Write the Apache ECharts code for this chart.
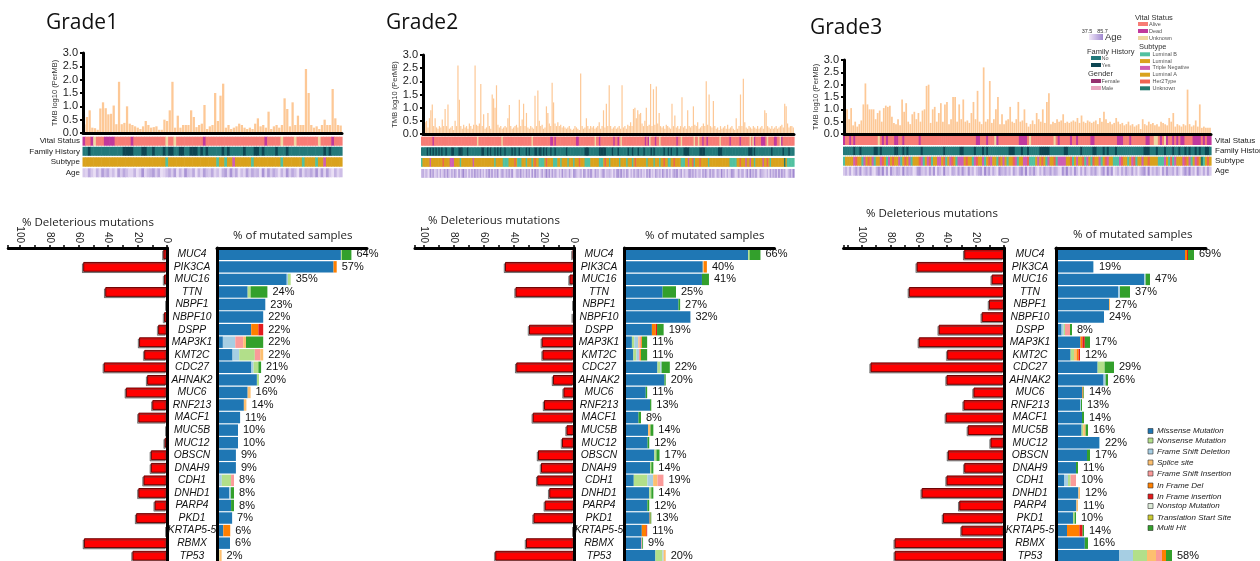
<!DOCTYPE html>
<html><head><meta charset="utf-8">
<script src="https://cdn.jsdelivr.net/npm/echarts@6/dist/echarts.min.js"></script>
<style>html,body{margin:0;padding:0;background:#fff}#c{width:1260px;height:561px}</style>
</head><body><div id="c"></div>
<script>
// ---------------- DATA ----------------
const genes = ['MUC4','PIK3CA','MUC16','TTN','NBPF1','NBPF10','DSPP','MAP3K1','KMT2C','CDC27','AHNAK2','MUC6','RNF213','MACF1','MUC5B','MUC12','OBSCN','DNAH9','CDH1','DNHD1','PARP4','PKD1','KRTAP5-5','RBMX','TP53'];
const mutTypes = ['Missense Mutation','Nonsense Mutation','Frame Shift Deletion','Splice site','Frame Shift Insertion','In Frame Del','In Frame insertion','Nonstop Mutation','Translation Start Site','Multi Hit'];
const tmbTicks = [0, 0.5, 1, 1.5, 2, 2.5, 3];
const delTicks = [0, 20, 40, 60, 80, 100];

// TMB log10 (per MB), one value per sample
const tmb1 = [0.32,0.6,0.85,0.2,0.18,0.12,0.92,1.15,0.93,0.7,
 0.72,1.03,0.33,1.92,0.33,0.38,1.0,0.35,0.3,0.25,
 0.2,0.15,0.25,0.45,0.3,0.2,0.22,0.25,0.12,0.12,
 0.5,0.45,0.85,1.92,0.2,0.65,0.2,0.3,0.3,0.3,
 0.85,0.6,0.22,0.3,0.35,1.05,0.15,0.25,0.3,1.5,
 0.45,1.4,1.85,0.2,0.3,0.15,0.2,0.25,0.35,0.3,
 0.2,0.15,0.2,0.15,0.35,0.55,0.25,0.3,0.2,0.8,
 0.15,0.25,0.3,0.2,0.3,1.3,0.9,0.25,1.15,0.3,
 0.65,0.3,0.3,2.4,1.5,0.3,0.2,0.25,0.15,0.3,
 0.5,0.3,0.3,1.65,0.55,0.3,0.28];
const tmb2 = [0.85,0.45,0.5,0.25,0.6,0.9,1.12,0.3,0.6,0.25,0.2,0.3,0.25,0.55,0.3,0.95,0.3,1.12,0.2,0.25,
 0.3,0.15,0.5,0.3,2.6,1.3,0.3,0.2,0.35,0.25,0.3,0.2,0.4,0.3,0.2,0.35,2.6,0.35,0.3,0.4,
 1.9,0.3,0.75,0.2,0.25,0.8,0.3,0.2,1.5,1.35,1.0,1.85,0.35,0.25,0.3,0.2,0.25,0.3,0.25,0.6,
 1.1,0.3,0.2,0.25,0.3,0.35,0.25,1.3,0.3,0.55,1.15,0.3,0.8,0.25,0.2,0.3,0.25,0.2,1.45,0.3,
 1.65,0.5,0.3,0.35,0.2,0.25,1.05,0.8,0.4,0.3,1.95,1.2,0.4,0.3,0.45,0.3,0.35,0.25,0.3,0.25,
 0.2,0.25,0.3,0.2,0.15,0.2,0.3,0.25,0.2,0.15,2.3,0.3,0.2,0.25,0.6,0.3,0.2,0.3,0.25,0.3,
 0.2,0.25,0.3,0.45,0.2,0.3,0.9,0.25,1.15,0.3,1.85,0.3,0.2,0.25,0.3,0.2,0.25,0.3,0.2,1.85,
 0.25,0.3,0.2,0.35,0.3,0.45,0.3,0.95,1.0,0.6,0.9,0.75,0.8,0.4,0.3,0.5,1.0,0.3,0.35,1.9,
 0.3,1.7,0.35,1.8,0.4,0.8,0.3,0.25,0.3,0.2,0.35,0.3,0.25,0.2,1.15,0.3,0.7,0.25,0.3,0.2,
 0.3,1.4,0.25,0.3,0.2,0.9,0.3,0.25,0.3,1.05,0.35,0.3,0.45,0.2,0.25,0.3,0.4,0.3,2.0,0.35,
 1.5,0.3,0.25,1.25,0.3,0.2,0.25,0.15,0.3,0.2,0.25,0.3,0.2,0.35,0.2,0.25,0.3,0.2,0.15,0.6,
 0.2,0.3,1.5,0.3,2.1,0.45,0.25,0.2,0.3,0.25,0.2,0.3,0.25,0.2,0.3,0.2,0.25,0.3,0.2,0.9,
 0.8,0.3,0.25,0.2,0.3,0.2,0.25,0.3,0.2,0.25,0.3,0.35,0.25,1.15,1.05,0.4,0.25,0.3,0.3,0.25];
const tmb3 = [0.95,1.0,0.6,1.05,0.35,0.5,0.3,0.4,0.55,1.2,2.05,1.2,1.0,1.0,1.0,0.6,0.85,0.95,0.5,1.05,
 1.15,1.1,1.15,0.7,0.45,0.4,0.6,0.35,1.4,0.9,1.25,0.5,0.4,0.8,0.9,0.6,0.85,0.5,0.95,1.0,
 1.95,2.0,0.45,1.0,1.1,0.5,0.85,1.25,0.5,1.2,1.3,0.4,0.6,1.5,1.5,0.5,1.2,0.6,1.4,0.5,
 0.55,0.45,0.85,1.3,0.6,1.75,0.5,0.4,2.7,0.5,0.6,2.15,0.45,0.6,1.0,1.5,0.4,0.8,0.4,0.55,
 0.6,1.1,0.5,0.45,0.6,1.3,0.5,0.55,1.0,0.45,0.3,0.4,0.55,0.4,0.85,0.6,0.5,1.0,0.45,1.3,
 1.65,0.4,0.5,0.45,0.6,0.5,0.55,0.8,0.45,0.5,0.45,0.5,0.55,0.5,0.65,0.45,0.75,0.5,0.45,0.55,
 0.5,0.45,0.5,0.55,0.4,0.65,0.5,0.9,0.6,0.45,0.5,0.4,0.45,0.65,0.5,0.4,0.45,0.35,0.4,0.5,
 0.35,0.4,0.3,0.35,0.4,0.2,0.6,0.4,0.35,0.5,0.4,0.45,0.35,0.4,0.3,0.5,0.45,0.4,0.35,0.65,
 0.5,0.85,0.3,0.4,0.35,0.3,0.4,0.35,1.8,0.4,0.3,0.35,0.55,0.3,1.2,0.25,0.3,0.25,0.25,0.25];

// Clinical tracks (one code per sample)
// vital: A alive, D dead, U unknown | family: T no, Y yes | subtype: B LumB, L Luminal, T TNBC, A LumA, H Her2, U unknown | age: 0 (37.5) .. 9 (85.7)
const vital1 = 'DAADUAAADDDD'+'AAAAAAD'+'AAAAAAAAAAAA'+'UAAU'+'AAAAAAAAAA'+'D'+'AAAAAAAAAAAAAAAAAAAAAA'+'DAAAAAU'+'AAAAU'+'AAAAAAAAU'+'AAAADAAA';
const family1 = 'TTYTTTTTTT'+'TTTTTYYYYT'+'TTYYTTYTTT'+'YTYYTTYYTT'+'YYYTYTYTTT'+'TTYTYTTTTT'+'YTTTYYTYTT'+'TTYTTTYTTT'+'TTTTTTTTTT'+'YTYTTTT';
const subtype1 = 'LLLLLLLLLL'+'LLLLLLLLLL'+'LLLLLLLLLL'+'LBLLLLLLLL'+'LLLLLLLLLL'+'BLLBLLTLLL'+'LLLBLLLLLL'+'LLLLBLLLLL'+'LLBLLLLBLL'+'TLLLLLL';
const age1 = '3263152746'+'2417364225'+'1382457361'+'2463715284'+'3615274362'+'4157283614'+'2736451827'+'3641528364'+'1725463827'+'2731524';

const vital2 = 'AAAAAAAADA'+'AAAAAAAAAA'+'AAAAAAAAAA'+'AAAAAAAAAU'+'AAAAAAAAAA'+'AAAAAAUAAA'+'AAAAAAAAAA'+'AAAAAAAUAA'+'AAAAAAAAAA'+'DDADAAAAAA'+'AAAAAAAADD'+'AAAAAAAAAA'+'AUAADAAAAA'+'AAAADAADAU'+'AAAAAAAAAA'+'AAAAAADADU'+'AAADAAUAAA'+'AAAAAAAADA'+'AUAAAAAAAA'+'UAAUAADAAD'+'AAAAAAAAUA'+'AAAAADAAAA'+'AADAAAAAAU'+'AUDAAAADDD'+'AUAAAADDAA'+'UDAAAAAAAA';
const family2 = 'TTTTYTYTYT'+'YTYTYTTYTT'+'TYYTTTYYYT'+'TTYTTTTTTT'+'TTYYTTYTYT'+'TYTYTYTTYT'+'TTTYTYTTYT'+'TTTYTYTTTY'+'YTYYTYTYTT'+'YTTYTTTTTT'+'TYTTTTTTTT'+'TTTTYYYTTT'+'TTTTYYYYYT'+'TTTYTTTYTT'+'TTTTYTTYTT'+'TYTTTYTTTT'+'YTYTTTTTTY'+'TTYTYTTTYT'+'TTTYYYYTTT'+'TTTTYYYYTT'+'TTTTTTTYYY'+'TTTTTTTTTT'+'TTTTTTTTYY'+'YTYTTTTTTT'+'TTTTYTTTTT'+'TTYTTTYTTT';
const subtype2 = 'BLLLLLTLLL'+'LLLLLHLLLL'+'TTTLLLLBLL'+'LLLLLLTLLL'+'LLLLLLLLLL'+'LBLLLLLBBB'+'BLLLLHLBBB'+'LLLBLLLBLH'+'LLBBBBLHLL'+'LLBBBLLBLL'+'LLBLLLBLLL'+'HLLLBBBBLL'+'LLLLBBBLHL'+'LBLLLLLLBL'+'LLLBLLLBLH'+'LLLLLLLBLL'+'LLBLLLBLLH'+'LLBBLLHLLL'+'LBBBLLTLLH'+'BLLLHLLLLL'+'BLLLLLLLLL'+'LLLLLBBBBB'+'LLHLLLTLLT'+'LLBLLLLLTL'+'LHLBLLLLLL'+'LLLULBBBBB';
const age2 = '4625318472'+'3516247384'+'2637418259'+'4516273846'+'3725164938'+'2648137526'+'4739215648'+'3527461829'+'4613725948'+'2736415283'+'5427318642'+'3618527493'+'2745136824'+'4531627849'+'3628415273'+'5736241849'+'2417536284'+'3826147592'+'4715326847'+'3624517483'+'2837416529'+'4516238741'+'3725614829'+'4638217543'+'2517364829'+'3846125739';

const vital3 = 'DAADADAAAA'+'AAAAAAAUAD'+'ADAAADDAAD'+'AAAAAAADAA'+'AAAAAAAAAA'+'AAAAAAAAAA'+'AAAAADDAAA'+'DAAAUDAAAA'+'AAAAAADDDD'+'AUAAAAAAAA'+'AAAUADAAAA'+'ADAADAAAAA'+'ADDAAAAAAA'+'AAAADDDAAA'+'DAAAAAAADD'+'AAUUADAUDA'+'ADADADDAAA'+'ADDDDADADD';
const family3 = 'TTTTTYTTYT'+'TTTTTYYTYT'+'TTTTTYYTTY'+'TYTTTTTTYT'+'TTTTTTTTTY'+'TTTTTTTYYT'+'TTTTYTTTYT'+'YTTTTTTTTT'+'TYYYTTTYTT'+'YTTTTTYYYY'+'YTTTTTTTYY'+'TTTTTTYTTT'+'TTYYTTTYTY'+'TTTYTTTTTT'+'TTTTTTTYYY'+'TTTYTTTYTT'+'TYTTYTTYTY'+'TTYTYTTYYT';
const subtype3 = 'BLLLLTHLLB'+'TLHLTBLLTH'+'LBTLHLLTBL'+'HLTBLLLHTB'+'LTHBLLTTLH'+'BLTHLBTTTL'+'HLLBTHLLTB'+'LHTLLBHLTL'+'BLLHTBLLTT'+'HBBBLTLHLB'+'TLLHBTTTTL'+'LHBLTLLHBT'+'LBHLLTBLHT'+'LLBBBTHLLB'+'LTHBLLTLLH'+'LLLLBBBTLB'+'HBTLLLTHLT'+'BLTHLUBLHL';
const age3 = '3526147382'+'4637215849'+'2718436529'+'3645127843'+'5273816429'+'3416527384'+'2835146729'+'4726318546'+'3517426839'+'2648315274'+'4736521849'+'3528416273'+'2647315829'+'4813526374'+'3725146829'+'2536417384'+'4627315849'+'3518426273';

// % deleterious mutations per gene
const del1 = [2.5,57,2,42,0,2,6,19,15.5,43,13.5,28,10,19.5,0,1.6,11,11,16,19.5,8.4,21,0,56.5,23.5];
const del2 = [1,46,3,39,0,0.7,30,21.5,21,38.5,14,7,20,27.5,5,8,24,22,24.5,16.5,19.5,27,0,32,52.5];
const del3 = [28,61.5,8.7,67,10.6,15.7,46,60,40,94,40.5,21.5,28.5,41,25.5,9.5,39.5,28,40.5,58,31.5,43,30,77,77];

// % of mutated samples by type; columns follow mutTypes
const mut1 = [
 [59,0.5,0,0,0,0,0,0,0,4.5],[55.5,0,0,0,0,1.5,0,0,0,0],[33.2,1.3,0.6,0,0,0,0,0,0,0],[14.6,1.4,0,0,0,0,0,0,0,8],
 [23,0,0,0,0,0,0,0,0,0],[22,0,0,0,0,0,0,0,0,0],[16.3,0,0,0,0,3.4,2.3,0,0,0],[2.8,0,5.9,1.3,3.8,0,0,0,0,8.2],
 [7.4,7.4,3.2,1.4,2.6,0,0,0,0,0],[16.4,2.3,1,0,0,0,0,0,0,1.3],[19,1,0,0,0,0,0,0,0,0],[14.6,0,0,1.4,0,0,0,0,0,0],
 [12.8,0,0,1.2,0,0,0,0,0,0],[11,0,0,0,0,0,0,0,0,0],[10,0,0,0,0,0,0,0,0,0],[10,0,0,0,0,0,0,0,0,0],
 [9,0,0,0,0,0,0,0,0,0],[9,0,0,0,0,0,0,0,0,0],[0.6,4.4,1.7,0,1.4,0,0,0,0,0],[5.8,0,0.8,0,0,0,0,0,0,1.5],
 [6.7,0,0,0,0,0,0,0,0,1.4],[7.2,0,0,0,0,0,0,0,0,0],[3,0,0,0,0,3.3,0,0,0,0],[6.2,0,0,0,0,0,0,0,0,0],
 [0,1.2,0,1.0,0,0,0,0,0,0]];
const mut2 = [
 [60,0.7,0,0,0,0,0,0,0,5.3],[38,0,0,0.5,0,1.5,0,0,0,0],[37.6,0,0,0,0,0,0,0,0,3.4],[18.5,0,0,0,0,0,0,0,0,6.5],
 [26.2,0,0,0,0,0,0,0,0,0.8],[32,0,0,0,0,0,0,0,0,0],[13.3,0,0,0,0,1.9,0.6,0,0,3.2],[3.6,1.2,1.9,0.5,0.9,0.4,0,0,0,2.5],
 [4.3,1.5,1.2,0,0.6,0.4,0,0,0,3],[16,1.4,0.6,0,0,0,0,0,0,4],[19.4,0,0,0,0,0,0,0,0,0.6],[10.3,0,0,0,0,0,0,0,0,0.7],
 [12.4,0,0,0,0,0,0,0,0,0.6],[6.8,0,0,0,0,0,0,0,0,1.2],[11.4,0,0,1.2,0,0,0,0,0,1.4],[11.2,0,0,0,0,0,0,0,0,0.8],
 [14.5,1,0,0,0,0,0,0,0,1.5],[12.4,0.6,0,0,0,0,0,0,0,1],[4.5,6.6,2.8,2.1,2.9,0,0,0,0,0],[12,1,0,0,0,0,0,0,0,1],
 [11.1,0,0,0,0,0,0,0,0,0.9],[12.2,0,0,0,0,0.4,0,0,0,0.4],[8.4,0,0,0,0,2.2,0.4,0,0,0],[8.2,0,0,0,0.4,0,0,0,0,0.4],
 [15,3.4,0.6,1,0,0,0,0,0,0]];
const mut3 = [
 [64.5,0,0,0,0,1,0.5,0,0,3],[18.5,0,0.5,0,0,0,0,0,0,0],[44,0,0.8,0,0,0,0,0,0,2.2],[31,0,1,0,0,0,0,0,0,5],
 [26.5,0,0,0.5,0,0,0,0,0,0],[24,0,0,0,0,0,0,0,0,0],[2.8,0.6,1.1,0,2.5,0,0,0,0,1],[12.2,0,0,0,0,1,1.2,0,0,2.6],
 [7.3,1.7,0,1.3,0,1,0.7,0,0,0],[20.8,3.5,0,0,0,0,0,0,0,4.7],[23.8,0,1,0,0,0,0,0,0,1.2],[13.2,0,0,0,0,0.5,0,0,0,0.3],
 [12,0,0.5,0,0,0,0,0,0,0.5],[13,0,0,0,0,0,0,0,0,1],[12.8,0.8,0,1.2,0,0,0,0,0,1.2],[21.5,0,0.5,0,0,0,0,0,0,0],
 [15.5,0,0,0,0,0,0,0,0,1.5],[10,0,0,0,0,0,0,0,0,1],[4,1.3,2,0,2.7,0,0,0,0,0],[11.2,0,0,0.8,0,0,0,0,0,0],
 [10.2,0,0,0.8,0,0,0,0,0,0],[8.5,0.8,0,0,0,0,0,0,0,0.7],[5.5,0,0,0,0,6.2,1.6,0,0,0.7],[14.4,0,0,0,0,0,0,0,0,1.6],
 [31.5,7,7,4.5,3,2,0,0,0,3]];
const pct1 = [64,57,35,24,23,22,22,22,22,21,20,16,14,11,10,10,9,9,8,8,8,7,6,6,2];
const pct2 = [66,40,41,25,27,32,19,11,11,22,20,11,13,8,14,12,17,14,19,14,12,13,11,9,20];
const pct3 = [69,19,47,37,27,24,8,17,12,29,26,14,13,14,16,22,17,11,10,12,11,10,14,16,58];

const vitalLegend = [['A','Alive'],['D','Dead'],['U','Unknown']];
const subtypeLegend = [['B','Luminal B'],['L','Luminal'],['T','Triple Negative'],['A','Luminal A'],['H','Her2Type'],['U','Unknown']];
const familyLegend = [['T','No'],['Y','Yes']];
const genderLegend = [['F','Female'],['M','Male']];
const ageRange = [37.5, 85.7];

// ---------------- STYLE / LAYOUT ----------------
const FONT = 'Liberation Sans';
const TFONT = 'Open Sans';
const COL = {
  tmb: '#fdc896',
  vital: {A:'#f77c76', D:'#c1399d', U:'#efd8a2'},
  family: {T:'#23797a', Y:'#0d4552'},
  subtype: {L:'#d9a21d', A:'#d9a21d', B:'#52c1a1', T:'#cf5fb3', H:'#ee6452', U:'#23796e'},
  gender: {F:'#96306f', M:'#eaa6c0'},
  ageLo: [242,233,249], ageHi: [160,136,208],
  mut: ['#1f77b4','#b2df8a','#a6cee3','#fdbf6f','#fb9a99','#ff7f00','#e31a1c','#dcebd8','#c9c930','#33a02c']
};
function ageColor(c){
  const t = (+c)/9;
  const m = COL.ageLo.map((v,i)=>Math.round(v + (COL.ageHi[i]-v)*t));
  return 'rgb('+m.join(',')+')';
}
const LAYOUT = [
 {tmb:{left:83,top:53,width:259,height:80,nameGap:22}, trk:{left:82.5,width:259.5,rows:[[136.7,9],[146.8,9],[157.3,9.4],[168.3,9]]},
  del:{x0:167,s:1.47,max:108,labelMargin:25}, mut:{left:217,s:2.1,width:150}, order:[0,2,1,4,3,5,6,7,8,9]},
 {tmb:{left:423,top:55,width:371,height:79,nameGap:24}, trk:{left:421,width:373,rows:[[136.7,9],[147.3,8.5],[158,8.8],[169,8.8]]},
  del:{x0:574,s:1.5,max:106,labelMargin:25}, mut:{left:624.5,s:2.06,width:150}, order:[0,1,2,3,4,5,6,7,8,9]},
 {tmb:{left:844,top:60,width:367,height:74,nameGap:23}, trk:{left:843,width:368,rows:[[136,9],[146.7,8.5],[156.7,9],[166.7,9]]},
  del:{x0:1004,s:1.42,max:113,labelMargin:26}, mut:{left:1056,s:2.0,width:150}, order:[0,2,1,3,4,5,6,7,8,9]}
];
const ROWTOP = 248, ROWH = 314;

const grids=[], xAxes=[], yAxes=[], series=[], graphics=[];
function addGrid(g){ grids.push(Object.assign({show:false, containLabel:false, outerBoundsMode:'none'}, g)); return grids.length-1; }

function addTMB(data, L){
  const gi = addGrid({left:L.left, top:L.top, width:L.width, height:L.height});
  xAxes.push({gridIndex:gi, type:'category', data:data.map((v,i)=>i), boundaryGap:true,
    axisLine:{show:true,onZero:false,lineStyle:{color:'#000',width:3}}, axisTick:{show:false}, axisLabel:{show:false}, splitLine:{show:false}, z:5});
  yAxes.push({gridIndex:gi, type:'value', min:tmbTicks[0], max:tmbTicks[tmbTicks.length-1], interval:tmbTicks[1]-tmbTicks[0],
    name:'TMB log10 (PerMB)', nameLocation:'middle', nameGap:L.nameGap, nameTextStyle:{fontSize:7.5,color:'#333',fontFamily:FONT},
    axisLine:{show:true,lineStyle:{color:'#000',width:3}}, axisTick:{show:true,length:3,lineStyle:{color:'#000',width:2}},
    axisLabel:{fontSize:11,color:'#222',margin:5,fontFamily:FONT,formatter:v=>v.toFixed(1)}, splitLine:{show:false}, z:5});
  series.push({type:'bar', xAxisIndex:gi, yAxisIndex:gi, data, barCategoryGap:'15%', itemStyle:{color:COL.tmb}, silent:true});
}
function addTrack(codes, colorOf, left, width, top, height){
  const gi = addGrid({left, top, width, height});
  const arr = codes.split('');
  xAxes.push({gridIndex:gi, type:'category', data:arr.map((c,i)=>i), show:false});
  yAxes.push({gridIndex:gi, type:'value', min:0, max:1, show:false});
  series.push({type:'custom', xAxisIndex:gi, yAxisIndex:gi, silent:true, data:arr.map((c,i)=>[i,1]),
    renderItem:(params, api)=>{
      const i = api.value(0);
      const p1 = api.coord([i,1]), p0 = api.coord([i,0]);
      const w = api.size([1,0])[0];
      return {type:'rect', shape:{x:p1[0]-w/2, y:p1[1], width:w+0.6, height:p0[1]-p1[1]}, style:{fill:colorOf(arr[params.dataIndex])}};
    }});
}
function addDel(data, D){
  const gi = addGrid({left:D.x0-D.max*D.s, top:ROWTOP, width:D.max*D.s, height:ROWH});
  xAxes.push({gridIndex:gi, type:'value', position:'top', inverse:true, min:delTicks[0], max:D.max, interval:delTicks[1]-delTicks[0],
    axisLine:{show:true,onZero:false,lineStyle:{color:'#000',width:3}},
    axisTick:{show:true,length:3,lineStyle:{color:'#000',width:1.5}},
    minorTick:{show:true,splitNumber:2,length:3,lineStyle:{color:'#000',width:1.5}},
    axisLabel:{rotate:90,fontSize:10,color:'#222',margin:5,fontFamily:FONT,showMaxLabel:false}, splitLine:{show:false}, minorSplitLine:{show:false}, z:5});
  yAxes.push({gridIndex:gi, type:'category', data:genes, inverse:true, position:'right',
    axisLine:{show:true,onZero:false,lineStyle:{color:'#000',width:3}}, axisTick:{show:false},
    axisLabel:{interval:0,fontStyle:'italic',fontSize:10.3,color:'#111',align:'center',margin:D.labelMargin,fontFamily:FONT}, z:5});
  series.push({type:'bar', xAxisIndex:gi, yAxisIndex:gi, data, barCategoryGap:'22%', silent:true,
    itemStyle:{color:'#ff0000', borderColor:'#6e0000', borderWidth:1, shadowColor:'rgba(70,70,70,0.5)', shadowBlur:0.5, shadowOffsetX:-1.3, shadowOffsetY:1.3}});
}
function addMut(rows, pct, M, order, k){
  const gi = addGrid({left:M.left, top:ROWTOP, width:M.width, height:ROWH});
  xAxes.push({gridIndex:gi, type:'value', position:'top', min:0, max:M.width/M.s,
    axisLine:{show:true,onZero:false,lineStyle:{color:'#000',width:3}}, axisTick:{show:false}, axisLabel:{show:false}, splitLine:{show:false}, z:5});
  yAxes.push({gridIndex:gi, type:'category', data:genes, inverse:true,
    axisLine:{show:true,onZero:false,lineStyle:{color:'#000',width:3}}, axisTick:{show:false}, axisLabel:{show:false}, z:5});
  order.forEach(t => series.push({type:'bar', name:mutTypes[t], xAxisIndex:gi, yAxisIndex:gi, stack:'m'+k, silent:true,
    data:rows.map(r=>r[t]), barCategoryGap:'9%', itemStyle:{color:COL.mut[t]}}));
  series.push({type:'bar', xAxisIndex:gi, yAxisIndex:gi, stack:'m'+k, silent:true, data:rows.map(()=>0), barCategoryGap:'9%',
    itemStyle:{color:'rgba(0,0,0,0)'},
    label:{show:true, position:'right', distance:5, fontSize:11, color:'#111', fontFamily:FONT, formatter:p=>pct[p.dataIndex]+'%'}});
}

const PANELS = [
  {tmb:tmb1, tr:[vital1,family1,subtype1,age1], del:del1, mut:mut1, pct:pct1},
  {tmb:tmb2, tr:[vital2,family2,subtype2,age2], del:del2, mut:mut2, pct:pct2},
  {tmb:tmb3, tr:[vital3,family3,subtype3,age3], del:del3, mut:mut3, pct:pct3}
];
const trackColor = [c=>COL.vital[c], c=>COL.family[c], c=>COL.subtype[c], c=>ageColor(c)];

PANELS.forEach((P,k)=>{
  const L = LAYOUT[k];
  addTMB(P.tmb, L.tmb);
  P.tr.forEach((codes,j)=> addTrack(codes, trackColor[j], L.trk.left, L.trk.width, L.trk.rows[j][0], L.trk.rows[j][1]));
  addDel(P.del, L.del);
  addMut(P.mut, P.pct, L.mut, L.order, k);
});

// ---------------- TEXTS / LEGENDS ----------------
function txt(text, x, y, o){ graphics.push({type:'text', x, y, silent:true, style:Object.assign({text, fontSize:10, fontFamily:FONT, fill:'#222', align:'left', verticalAlign:'middle'}, o||{})}); }
function box(x, y, w, h, fill, stroke){ graphics.push({type:'rect', silent:true, shape:{x,y,width:w,height:h}, style:{fill, stroke:stroke||null, lineWidth:stroke?0.6:0}}); }

txt('Grade1', 46, 23, {fontSize:21, fontFamily:TFONT, fill:'#111'});
txt('Grade2', 386, 23, {fontSize:21, fontFamily:TFONT, fill:'#111'});
txt('Grade3', 810, 28, {fontSize:21, fontFamily:TFONT, fill:'#111'});

['Vital Status','Family History','Subtype','Age'].forEach((s,j)=>{
  const r1 = LAYOUT[0].trk.rows[j], r3 = LAYOUT[2].trk.rows[j];
  txt(s, 80, r1[0]+r1[1]/2, {fontSize:8, align:'right'});
  txt(s, 1215, r3[0]+r3[1]/2, {fontSize:8});
});

txt('% Deleterious mutations', 22, 223, {fontSize:11.5, fontFamily:TFONT});
txt('% Deleterious mutations', 428, 221, {fontSize:11.5, fontFamily:TFONT});
txt('% Deleterious mutations', 866, 214, {fontSize:11.5, fontFamily:TFONT});
txt('% of mutated samples', 233, 236, {fontSize:11.5, fontFamily:TFONT});
txt('% of mutated samples', 645, 236, {fontSize:11.5, fontFamily:TFONT});
txt('% of mutated samples', 1073, 235, {fontSize:11.5, fontFamily:TFONT});

// top-right clinical legend
txt('Vital Status', 1135, 18, {fontSize:7.5, fill:'#333'});
vitalLegend.forEach(([c,l],i)=>{ box(1138, 22+i*7, 10, 4, COL.vital[c]); txt(l, 1149, 24+i*7, {fontSize:5.5, fill:'#555'}); });
txt('Subtype', 1139, 47, {fontSize:7.5, fill:'#333'});
subtypeLegend.forEach(([c,l],i)=>{ const y = 52.3 + i*6.8; box(1140, y, 10, 4, COL.subtype[c]); txt(l, 1152.5, y+2, {fontSize:5.5, fill:'#555'}); });
txt(String(ageRange[0]), 1087, 31, {fontSize:5.5, fill:'#333', align:'center'});
txt(String(ageRange[1]), 1102.5, 31, {fontSize:5.5, fill:'#333', align:'center'});
graphics.push({type:'rect', silent:true, shape:{x:1089,y:34,width:14,height:6},
  style:{fill:new echarts.graphic.LinearGradient(0,0,1,0,[{offset:0,color:ageColor(0)},{offset:1,color:ageColor(9)}])}});
txt('Age', 1105, 37.5, {fontSize:9.5, fill:'#333'});
txt('Family History', 1087, 52, {fontSize:7.5, fill:'#333'});
familyLegend.forEach(([c,l],i)=>{ box(1091, 56+i*7, 10, 4, COL.family[c]); txt(l, 1101.5, 58+i*7, {fontSize:5.5, fill:'#555'}); });
txt('Gender', 1088, 74, {fontSize:7.5, fill:'#333'});
genderLegend.forEach(([c,l],i)=>{ box(1091, 79+i*7, 10, 4, COL.gender[c]); txt(l, 1101.5, 81+i*7, {fontSize:5.5, fill:'#555'}); });

// bottom-right mutation legend
const legY = [431, 440.5, 451.5, 462.5, 473.5, 485.5, 496.5, 506, 517.5, 528];
mutTypes.forEach((m,i)=>{ box(1148, legY[i]-2.5, 5, 5, COL.mut[i], '#333'); txt(m, 1157, legY[i], {fontSize:8, fontStyle:'italic', fill:'#222'}); });

const chart = echarts.init(document.getElementById('c'), null, {renderer:'canvas'});
chart.setOption({
  animation:false,
  backgroundColor:'#fff',
  textStyle:{fontFamily:FONT},
  grid:grids, xAxis:xAxes, yAxis:yAxes, series, graphic:graphics
});
</script></body></html>
